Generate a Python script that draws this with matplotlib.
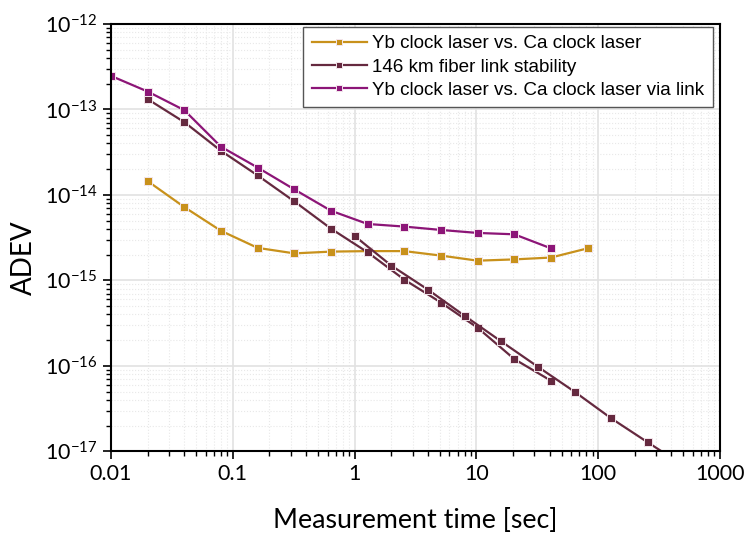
import math
import matplotlib
matplotlib.use("Agg")
import matplotlib.pyplot as plt
from matplotlib.ticker import FixedLocator, LogLocator, FuncFormatter, NullFormatter

# Allan deviation vs averaging time
tau_ca = [0.02, 0.04, 0.08, 0.16, 0.32, 0.64, 1.28, 2.56, 5.12, 10.24, 20.48, 40.96, 81.92]
adev_ca = [1.45e-14, 7.2e-15, 3.8e-15, 2.4e-15, 2.07e-15, 2.17e-15, 2.2e-15, 2.2e-15,
           1.95e-15, 1.70e-15, 1.76e-15, 1.85e-15, 2.37e-15]

tau_link_a = [0.02, 0.04, 0.08, 0.16, 0.32, 0.64, 1.28, 2.56, 5.12, 10.24, 20.48, 40.96]
adev_link_a = [1.32e-13, 7.1e-14, 3.28e-14, 1.69e-14, 8.4e-15, 4.03e-15, 2.13e-15, 1.02e-15,
               5.5e-16, 2.79e-16, 1.2e-16, 6.7e-17]

tau_link_b = [1, 2, 4, 8, 16, 32, 64, 128, 256, 512]
adev_link_b = [3.31e-15, 1.49e-15, 7.8e-16, 3.85e-16, 1.93e-16, 9.75e-17, 4.98e-17,
               2.43e-17, 1.27e-17, 6.7e-18]

tau_via = [0.01, 0.02, 0.04, 0.08, 0.16, 0.32, 0.64, 1.28, 2.56, 5.12, 10.24, 20.48, 40.96]
adev_via = [2.47e-13, 1.62e-13, 9.8e-14, 3.66e-14, 2.09e-14, 1.16e-14, 6.53e-15, 4.57e-15,
            4.26e-15, 3.89e-15, 3.59e-15, 3.46e-15, 2.37e-15]

labels = ["Yb clock laser vs. Ca clock laser",
          "146 km fiber link stability",
          "Yb clock laser vs. Ca clock laser via link"]

x_ticks = [0.01, 0.1, 1, 10, 100, 1000]
y_exponents = [-17, -16, -15, -14, -13, -12]

GOLD = "#c8911b"
BROWN = "#65293f"
PURPLE = "#8c1577"

plt.rcParams["font.family"] = ["Lato", "DejaVu Sans"]
plt.rcParams["mathtext.fontset"] = "custom"
plt.rcParams["mathtext.rm"] = "Lato"
plt.rcParams["mathtext.it"] = "Lato"


def power_label(v, pos):
    return r"$\mathdefault{10^{%d}}$" % round(math.log10(v))


fig = plt.figure(figsize=(7.46, 5.39), dpi=100)
ax = fig.add_axes([0.1488, 0.1627, 0.8163, 0.7928])

style = dict(marker="s", markersize=6, linewidth=1.6,
             markeredgecolor="#f3e6ec", markeredgewidth=0.7)

ax.plot(tau_ca, adev_ca, color=GOLD, markerfacecolor=GOLD, label=labels[0], **style)
ax.plot(tau_link_a, adev_link_a, color=BROWN, markerfacecolor=BROWN, label=labels[1], **style)
# second link run, same trace colour, no legend entry
ax.plot(tau_link_b, adev_link_b, color=BROWN, markerfacecolor=BROWN, **style)
ax.plot(tau_via, adev_via, color=PURPLE, markerfacecolor=PURPLE, label=labels[2], **style)

ax.set_xscale("log")
ax.set_yscale("log")
ax.set_xlim(0.01, 1000)
ax.set_ylim(1e-17, 1e-12)

ax.xaxis.set_major_locator(FixedLocator(x_ticks))
ax.xaxis.set_minor_locator(LogLocator(base=10, subs=range(2, 10), numticks=20))
ax.xaxis.set_major_formatter(FuncFormatter(lambda v, p: "%g" % v))
ax.xaxis.set_minor_formatter(NullFormatter())
ax.yaxis.set_major_locator(FixedLocator([10.0 ** e for e in y_exponents]))
ax.yaxis.set_minor_locator(LogLocator(base=10, subs=range(2, 10), numticks=20))
ax.yaxis.set_major_formatter(FuncFormatter(power_label))
ax.yaxis.set_minor_formatter(NullFormatter())

ax.set_axisbelow(True)
ax.grid(True, which="major", color="#e2e2e2", linewidth=1.2)
ax.grid(True, which="minor", color="#e8e8e8", linestyle=":", linewidth=0.8)

ax.tick_params(which="major", direction="out", length=6, width=1.2, labelsize=15.5,
               top=False, right=False, colors="black")
ax.tick_params(which="minor", direction="out", length=3.5, width=1.0,
               top=False, right=False)
for sp in ax.spines.values():
    sp.set_linewidth(1.5)

ax.set_xlabel("Measurement time [sec]", fontsize=19.3, va="center")
ax.xaxis.set_label_coords(0.5, -0.163)
ax.set_ylabel("ADEV", fontsize=20, va="center")
ax.yaxis.set_label_coords(-0.143, 0.452)

leg = ax.legend(loc="upper right", bbox_to_anchor=(0.9885, 0.994), borderaxespad=0,
                prop={"family": "Liberation Sans", "size": 13.6}, handlelength=2.9,
                handletextpad=0.3, labelspacing=0.32, borderpad=0.45,
                fancybox=False, framealpha=1, edgecolor="#555555", markerscale=0.75)
leg.get_frame().set_linewidth(1.0)

fig.savefig("out.png", dpi=100)
